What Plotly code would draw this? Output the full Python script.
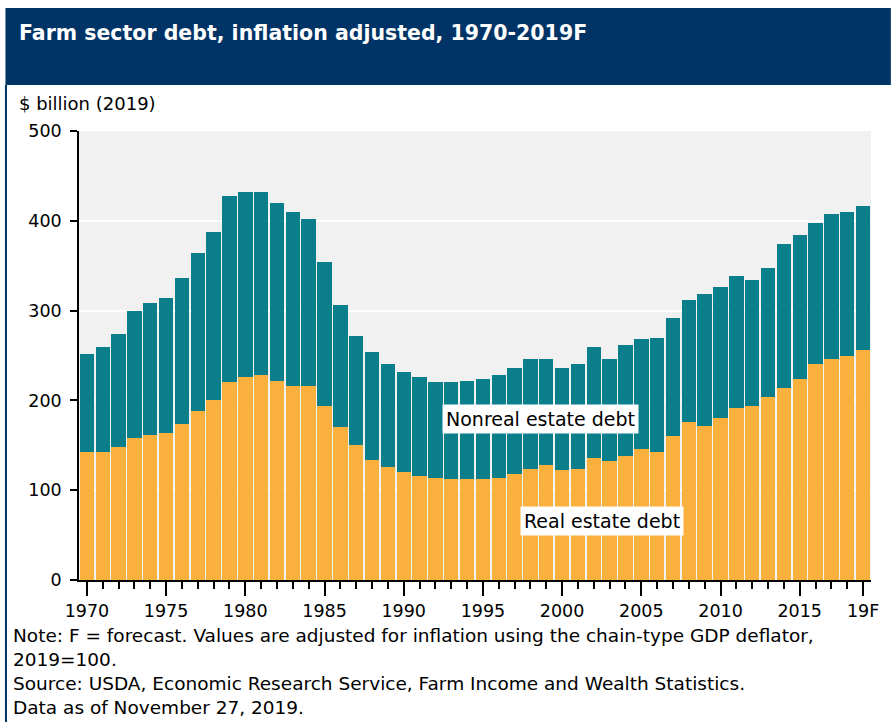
import plotly.graph_objects as go

# Farm sector debt, $ billion (2019 dollars)
years = list(range(1970, 2020))
real_estate = [142, 142, 148, 158, 162, 164, 174, 188, 200, 220,
               226, 228, 222, 216, 216, 194, 170, 150, 134, 126,
               120, 116, 114, 112, 112, 112, 114, 118, 124, 128,
               122, 124, 136, 132, 138, 146, 142, 160, 176, 172,
               180, 192, 194, 204, 214, 224, 240, 246, 250, 256]
nonreal_estate = [110, 118, 126, 142, 146, 150, 162, 176, 188, 208,
                  206, 204, 198, 194, 186, 160, 136, 122, 120, 114,
                  112, 110, 106, 108, 110, 112, 114, 118, 122, 118,
                  114, 116, 124, 114, 124, 122, 128, 132, 136, 146,
                  146, 146, 140, 144, 160, 160, 158, 162, 160, 160]
tick_years = [1970, 1975, 1980, 1985, 1990, 1995, 2000, 2005, 2010, 2015, 2019]
tick_labels = ["1970", "1975", "1980", "1985", "1990", "1995", "2000", "2005", "2010", "2015", "19F"]
y_ticks = [0, 100, 200, 300, 400, 500]

FONT = "DejaVu Sans"
NAVY = "#003366"
TEAL = "#0b7e8c"
ORANGE = "#f9b03c"

W, H = 891, 722
L, R, T, B = 79, 15, 131, 142
pw, ph = W - L - R, H - T - B


def px(x):
    return (x - L) / pw


def py(y):
    return (H - B - y) / ph


fig = go.Figure()
fig.add_trace(go.Bar(x=years, y=real_estate, name="Real estate debt",
                     marker=dict(color=ORANGE, line=dict(width=0))))
fig.add_trace(go.Bar(x=years, y=nonreal_estate, name="Nonreal estate debt",
                     marker=dict(color=TEAL, line=dict(width=0))))

fig.update_layout(
    width=W, height=H,
    margin=dict(l=L, r=R, t=T, b=B),
    barmode="stack", bargap=0.09,
    showlegend=False,
    paper_bgcolor="white", plot_bgcolor="#f1f1f1",
    font=dict(family=FONT, size=18, color="black"),
)

fig.update_xaxes(
    range=[1969.5, 2019.5], tickmode="array", tickvals=tick_years, ticktext=tick_labels,
    ticks="outside", ticklen=14, tickwidth=1.5, tickcolor="black",
    minor=dict(tickmode="linear", tick0=1970, dtick=1, ticks="outside",
               ticklen=7, tickwidth=1.5, tickcolor="black"),
    showline=True, linecolor="black", linewidth=1.5, showgrid=False,
    tickfont=dict(family=FONT, size=17.5), zeroline=False,
)
fig.update_yaxes(
    range=[0, 500], tickvals=y_ticks, ticks="outside", ticklen=7, tickwidth=1.5,
    tickcolor="black", showline=True, linecolor="black", linewidth=1.5,
    showgrid=True, gridcolor="white", gridwidth=2, zeroline=False,
    tickfont=dict(family=FONT, size=17.5), ticklabelstandoff=5,
)

# Title banner and frame
fig.add_shape(type="rect", xref="paper", yref="paper",
              x0=px(5), x1=px(W + 5), y0=py(85), y1=py(8),
              fillcolor=NAVY, line=dict(width=0), layer="below")
fig.add_shape(type="line", xref="paper", yref="paper",
              x0=px(5.5), x1=px(5.5), y0=py(85), y1=py(H + 5),
              line=dict(color=NAVY, width=2))

fig.add_annotation(xref="paper", yref="paper", x=px(17), y=py(33),
                   xanchor="left", yanchor="middle", showarrow=False,
                   text="<b>Farm sector debt, inflation adjusted, 1970-2019F</b>",
                   font=dict(family=FONT, size=20.5, color="white"))
fig.add_annotation(xref="paper", yref="paper", x=px(17), y=py(103),
                   xanchor="left", yanchor="middle", showarrow=False,
                   text="$ billion (2019)", font=dict(family=FONT, size=18))

# Series labels
fig.add_annotation(x=1998.64, y=179.6, text="Nonreal estate debt", showarrow=False,
                   bgcolor="white", borderpad=3, font=dict(family=FONT, size=19))
fig.add_annotation(x=2002.5, y=65.4, text="Real estate debt", showarrow=False,
                   bgcolor="white", borderpad=3, font=dict(family=FONT, size=19))

# Notes
fig.add_annotation(xref="paper", yref="paper", x=px(11), y=py(623),
                   xanchor="left", yanchor="top", align="left", showarrow=False,
                   text=("Note: F = forecast. Values are adjusted for inflation using the chain-type GDP deflator,<br>"
                         "2019=100.<br>"
                         "Source: USDA, Economic Research Service, Farm Income and Wealth Statistics.<br>"
                         "Data as of November 27, 2019."),
                   font=dict(family=FONT, size=18.5))

fig.write_html("out.html")
